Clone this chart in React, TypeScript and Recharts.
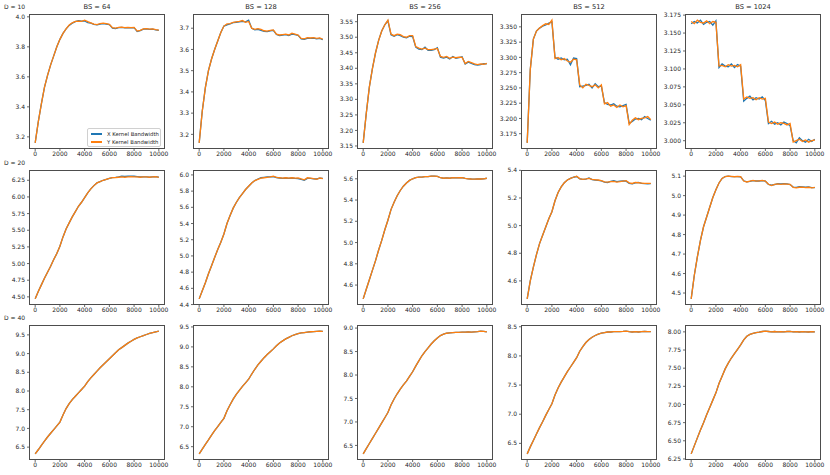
import { Line, LineChart, XAxis, YAxis } from "recharts";

const BLUE = "#1f77b4";
const ORANGE = "#ff7f0e";

const SERIES_NAMES = ["X Kernel Bandwidth", "Y Kernel Bandwidth"];
const ROW_LABELS = ["D = 10", "D = 20", "D = 40"];
const COL_TITLES = ["BS = 64", "BS = 128", "BS = 256", "BS = 512", "BS = 1024"];

// training steps (x values shared by every panel)
const STEPS = [
  0, 250, 500, 750, 1000, 1250, 1500, 1750, 2000, 2250, 2500, 2750, 3000, 3250, 3500, 3750,
  4000, 4250, 4500, 4750, 5000, 5250, 5500, 5750, 6000, 6250, 6500, 6750, 7000, 7250, 7500,
  7750, 8000, 8250, 8500, 8750, 9000, 9250, 9500, 9750, 10000,
];
const X_TICKS = [0, 2000, 4000, 6000, 8000, 10000];

// ---- D = 10 ----
const d10_bs64_y = [3.16, 3.30, 3.42, 3.53, 3.61, 3.68, 3.74, 3.80, 3.85, 3.89, 3.92, 3.945, 3.96, 3.97, 3.972, 3.97, 3.978, 3.968, 3.96, 3.952, 3.948, 3.955, 3.958, 3.955, 3.95, 3.928, 3.925, 3.93, 3.932, 3.928, 3.93, 3.928, 3.93, 3.905, 3.91, 3.92, 3.922, 3.918, 3.92, 3.915, 3.912];
const d10_bs64_x = [3.16, 3.30, 3.42, 3.53, 3.61, 3.68, 3.74, 3.80, 3.85, 3.89, 3.92, 3.943, 3.958, 3.968, 3.975, 3.972, 3.972, 3.962, 3.958, 3.950, 3.946, 3.952, 3.955, 3.952, 3.948, 3.924, 3.922, 3.928, 3.930, 3.926, 3.928, 3.926, 3.928, 3.902, 3.908, 3.918, 3.920, 3.916, 3.918, 3.913, 3.910];
const d10_bs128_y = [3.16, 3.31, 3.42, 3.50, 3.555, 3.60, 3.64, 3.68, 3.71, 3.72, 3.722, 3.728, 3.73, 3.732, 3.736, 3.728, 3.732, 3.70, 3.695, 3.698, 3.694, 3.688, 3.686, 3.69, 3.692, 3.672, 3.668, 3.67, 3.672, 3.668, 3.676, 3.672, 3.668, 3.652, 3.65, 3.656, 3.654, 3.656, 3.652, 3.654, 3.648];
const d10_bs128_x = [3.16, 3.31, 3.42, 3.50, 3.555, 3.60, 3.64, 3.68, 3.71, 3.716, 3.72, 3.726, 3.728, 3.73, 3.732, 3.73, 3.738, 3.70, 3.692, 3.695, 3.69, 3.685, 3.684, 3.688, 3.69, 3.67, 3.665, 3.668, 3.67, 3.665, 3.672, 3.67, 3.666, 3.65, 3.648, 3.652, 3.652, 3.653, 3.65, 3.652, 3.646];
const d10_bs256_y = [3.16, 3.255, 3.34, 3.40, 3.45, 3.49, 3.52, 3.54, 3.555, 3.51, 3.505, 3.51, 3.508, 3.502, 3.50, 3.505, 3.505, 3.47, 3.465, 3.462, 3.465, 3.46, 3.46, 3.462, 3.464, 3.438, 3.435, 3.438, 3.432, 3.436, 3.434, 3.436, 3.435, 3.415, 3.422, 3.418, 3.414, 3.412, 3.414, 3.413, 3.416];
const d10_bs256_x = [3.16, 3.255, 3.34, 3.40, 3.45, 3.49, 3.52, 3.54, 3.553, 3.508, 3.503, 3.508, 3.505, 3.50, 3.498, 3.503, 3.502, 3.468, 3.462, 3.46, 3.468, 3.458, 3.458, 3.46, 3.466, 3.436, 3.433, 3.436, 3.43, 3.438, 3.432, 3.434, 3.437, 3.414, 3.42, 3.416, 3.412, 3.41, 3.412, 3.415, 3.414];
const d10_bs512_y = [3.16, 3.28, 3.33, 3.343, 3.348, 3.352, 3.355, 3.354, 3.361, 3.298, 3.30, 3.296, 3.298, 3.294, 3.292, 3.297, 3.296, 3.255, 3.25, 3.256, 3.254, 3.252, 3.255, 3.25, 3.255, 3.224, 3.226, 3.22, 3.222, 3.218, 3.222, 3.219, 3.221, 3.19, 3.197, 3.201, 3.198, 3.20, 3.201, 3.203, 3.198];
const d10_bs512_x = [3.16, 3.28, 3.33, 3.343, 3.348, 3.351, 3.353, 3.356, 3.358, 3.30, 3.297, 3.299, 3.296, 3.297, 3.288, 3.299, 3.298, 3.252, 3.253, 3.254, 3.256, 3.25, 3.257, 3.252, 3.253, 3.226, 3.223, 3.222, 3.224, 3.22, 3.219, 3.221, 3.223, 3.192, 3.195, 3.199, 3.20, 3.198, 3.203, 3.20, 3.197];
const d10_bs1024_y = [3.166, 3.163, 3.168, 3.165, 3.164, 3.167, 3.163, 3.166, 3.165, 3.104, 3.105, 3.103, 3.106, 3.104, 3.105, 3.103, 3.106, 3.058, 3.061, 3.059, 3.06, 3.057, 3.06, 3.058, 3.059, 3.026, 3.024, 3.026, 3.023, 3.025, 3.024, 3.022, 3.024, 2.998, 3.00, 3.002, 2.999, 3.001, 2.998, 3.00, 3.001];
const d10_bs1024_x = [3.163, 3.166, 3.164, 3.168, 3.162, 3.165, 3.166, 3.161, 3.167, 3.102, 3.107, 3.104, 3.103, 3.107, 3.102, 3.106, 3.104, 3.055, 3.059, 3.062, 3.057, 3.06, 3.058, 3.061, 3.056, 3.024, 3.027, 3.023, 3.025, 3.022, 3.026, 3.024, 3.021, 3.00, 2.997, 3.004, 3.00, 2.998, 3.002, 2.999, 3.002];

// ---- D = 20 ----
const d20_bs64_y = [4.47, 4.58, 4.68, 4.78, 4.87, 4.96, 5.06, 5.15, 5.26, 5.40, 5.52, 5.61, 5.70, 5.78, 5.86, 5.92, 5.99, 6.06, 6.12, 6.17, 6.21, 6.23, 6.25, 6.265, 6.28, 6.29, 6.29, 6.295, 6.30, 6.295, 6.30, 6.305, 6.30, 6.30, 6.295, 6.30, 6.30, 6.295, 6.30, 6.305, 6.295];
const d20_bs64_x = [4.47, 4.58, 4.68, 4.78, 4.87, 4.96, 5.06, 5.15, 5.26, 5.40, 5.52, 5.61, 5.70, 5.78, 5.86, 5.92, 5.99, 6.06, 6.12, 6.17, 6.21, 6.23, 6.25, 6.265, 6.28, 6.29, 6.292, 6.30, 6.31, 6.308, 6.312, 6.31, 6.31, 6.305, 6.30, 6.302, 6.30, 6.298, 6.302, 6.305, 6.298];
const d20_bs128_y = [4.47, 4.57, 4.67, 4.78, 4.88, 4.98, 5.08, 5.17, 5.27, 5.40, 5.50, 5.59, 5.66, 5.72, 5.77, 5.82, 5.86, 5.90, 5.93, 5.945, 5.96, 5.965, 5.97, 5.975, 5.985, 5.97, 5.965, 5.96, 5.965, 5.96, 5.965, 5.96, 5.962, 5.95, 5.94, 5.965, 5.96, 5.955, 5.945, 5.962, 5.955];
const d20_bs128_x = [4.47, 4.57, 4.67, 4.78, 4.88, 4.98, 5.08, 5.17, 5.27, 5.40, 5.50, 5.59, 5.66, 5.72, 5.77, 5.82, 5.86, 5.90, 5.93, 5.95, 5.965, 5.97, 5.975, 5.975, 5.98, 5.968, 5.962, 5.958, 5.962, 5.958, 5.962, 5.958, 5.955, 5.945, 5.935, 5.958, 5.958, 5.952, 5.95, 5.96, 5.958];
const d20_bs256_y = [4.47, 4.56, 4.65, 4.74, 4.83, 4.93, 5.02, 5.12, 5.21, 5.31, 5.38, 5.44, 5.49, 5.53, 5.56, 5.585, 5.60, 5.61, 5.615, 5.615, 5.62, 5.62, 5.625, 5.625, 5.623, 5.61, 5.605, 5.608, 5.605, 5.61, 5.608, 5.61, 5.61, 5.603, 5.60, 5.598, 5.597, 5.60, 5.598, 5.60, 5.605];
const d20_bs512_y = [4.47, 4.60, 4.70, 4.79, 4.87, 4.93, 4.99, 5.05, 5.10, 5.18, 5.24, 5.28, 5.31, 5.33, 5.342, 5.35, 5.358, 5.34, 5.335, 5.338, 5.342, 5.335, 5.332, 5.33, 5.325, 5.316, 5.314, 5.318, 5.32, 5.315, 5.318, 5.322, 5.325, 5.31, 5.305, 5.312, 5.31, 5.308, 5.306, 5.305, 5.305];
const d20_bs512_x = [4.47, 4.60, 4.70, 4.79, 4.87, 4.93, 4.99, 5.05, 5.10, 5.18, 5.24, 5.28, 5.31, 5.33, 5.342, 5.35, 5.355, 5.338, 5.335, 5.336, 5.345, 5.333, 5.33, 5.328, 5.323, 5.314, 5.312, 5.32, 5.326, 5.318, 5.322, 5.324, 5.322, 5.306, 5.302, 5.31, 5.312, 5.306, 5.304, 5.303, 5.304];
const d20_bs1024_y = [4.47, 4.59, 4.685, 4.77, 4.84, 4.89, 4.94, 4.99, 5.03, 5.065, 5.088, 5.098, 5.10, 5.099, 5.097, 5.099, 5.097, 5.075, 5.07, 5.074, 5.078, 5.074, 5.076, 5.078, 5.075, 5.058, 5.052, 5.058, 5.06, 5.058, 5.06, 5.059, 5.058, 5.042, 5.04, 5.043, 5.044, 5.041, 5.043, 5.04, 5.042];
const d20_bs1024_x = [4.47, 4.59, 4.685, 4.77, 4.84, 4.89, 4.94, 4.99, 5.03, 5.065, 5.088, 5.098, 5.10, 5.098, 5.098, 5.098, 5.096, 5.076, 5.071, 5.073, 5.077, 5.075, 5.075, 5.077, 5.074, 5.057, 5.054, 5.057, 5.061, 5.06, 5.062, 5.06, 5.057, 5.044, 5.042, 5.046, 5.045, 5.043, 5.045, 5.041, 5.041];

// ---- D = 40 (both bandwidths overlap at this scale) ----
const d40_bs64_y = [6.32, 6.43, 6.55, 6.66, 6.77, 6.87, 6.97, 7.07, 7.17, 7.36, 7.53, 7.66, 7.77, 7.86, 7.95, 8.04, 8.13, 8.25, 8.35, 8.44, 8.53, 8.62, 8.70, 8.78, 8.86, 8.94, 9.02, 9.10, 9.16, 9.22, 9.28, 9.33, 9.38, 9.42, 9.45, 9.48, 9.51, 9.54, 9.56, 9.58, 9.60];
const d40_bs128_y = [6.32, 6.44, 6.56, 6.67, 6.79, 6.90, 7.00, 7.11, 7.21, 7.40, 7.55, 7.69, 7.81, 7.91, 8.01, 8.10, 8.19, 8.32, 8.44, 8.55, 8.64, 8.73, 8.81, 8.88, 8.95, 9.03, 9.10, 9.15, 9.20, 9.24, 9.28, 9.31, 9.33, 9.35, 9.36, 9.37, 9.38, 9.385, 9.39, 9.395, 9.39];
const d40_bs256_y = [6.32, 6.43, 6.54, 6.65, 6.76, 6.87, 6.98, 7.09, 7.20, 7.36, 7.49, 7.60, 7.70, 7.79, 7.87, 7.97, 8.07, 8.19, 8.30, 8.41, 8.50, 8.58, 8.66, 8.73, 8.79, 8.84, 8.87, 8.89, 8.90, 8.905, 8.91, 8.91, 8.915, 8.915, 8.92, 8.915, 8.92, 8.925, 8.935, 8.93, 8.92];
const d40_bs512_y = [6.32, 6.44, 6.55, 6.66, 6.77, 6.87, 6.98, 7.08, 7.18, 7.33, 7.45, 7.55, 7.64, 7.73, 7.81, 7.89, 7.97, 8.08, 8.16, 8.23, 8.28, 8.32, 8.35, 8.375, 8.39, 8.40, 8.41, 8.41, 8.415, 8.415, 8.418, 8.42, 8.425, 8.415, 8.41, 8.415, 8.41, 8.415, 8.42, 8.415, 8.415];
const d40_bs1024_y = [6.32, 6.43, 6.54, 6.65, 6.75, 6.86, 6.96, 7.06, 7.16, 7.29, 7.39, 7.49, 7.57, 7.64, 7.70, 7.76, 7.82, 7.89, 7.94, 7.965, 7.98, 7.99, 7.995, 8.005, 8.01, 8.005, 8.00, 8.005, 8.00, 8.003, 8.00, 8.005, 8.006, 8.00, 8.002, 7.998, 8.002, 8.00, 7.998, 8.002, 8.00];

// y tick labels per panel
const T_D10 = [
  [3.2, 3.4, 3.6, 3.8, 4.0],
  [3.2, 3.3, 3.4, 3.5, 3.6, 3.7],
  [3.15, 3.2, 3.25, 3.3, 3.35, 3.4, 3.45, 3.5, 3.55],
  [3.175, 3.2, 3.225, 3.25, 3.275, 3.3, 3.325, 3.35],
  [3.0, 3.025, 3.05, 3.075, 3.1, 3.125, 3.15, 3.175],
];
const T_D20 = [
  [4.5, 4.75, 5.0, 5.25, 5.5, 5.75, 6.0, 6.25],
  [4.4, 4.6, 4.8, 5.0, 5.2, 5.4, 5.6, 5.8, 6.0],
  [4.6, 4.8, 5.0, 5.2, 5.4, 5.6],
  [4.6, 4.8, 5.0, 5.2, 5.4],
  [4.5, 4.6, 4.7, 4.8, 4.9, 5.0, 5.1],
];
const T_D40 = [
  [6.5, 7.0, 7.5, 8.0, 8.5, 9.0, 9.5],
  [6.5, 7.0, 7.5, 8.0, 8.5, 9.0, 9.5],
  [6.5, 7.0, 7.5, 8.0, 8.5, 9.0],
  [6.5, 7.0, 7.5, 8.0, 8.5],
  [6.25, 6.5, 6.75, 7.0, 7.25, 7.5, 7.75, 8.0],
];
const DEC = [
  [1, 1, 2, 3, 3],
  [2, 1, 1, 1, 1],
  [1, 1, 1, 1, 2],
];

type PanelData = { x: number[]; y: number[]; ticks: number[]; dec: number };

const GRID: PanelData[][] = [
  [
    { x: d10_bs64_x, y: d10_bs64_y, ticks: T_D10[0], dec: DEC[0][0] },
    { x: d10_bs128_x, y: d10_bs128_y, ticks: T_D10[1], dec: DEC[0][1] },
    { x: d10_bs256_x, y: d10_bs256_y, ticks: T_D10[2], dec: DEC[0][2] },
    { x: d10_bs512_x, y: d10_bs512_y, ticks: T_D10[3], dec: DEC[0][3] },
    { x: d10_bs1024_x, y: d10_bs1024_y, ticks: T_D10[4], dec: DEC[0][4] },
  ],
  [
    { x: d20_bs64_x, y: d20_bs64_y, ticks: T_D20[0], dec: DEC[1][0] },
    { x: d20_bs128_x, y: d20_bs128_y, ticks: T_D20[1], dec: DEC[1][1] },
    { x: d20_bs256_y, y: d20_bs256_y, ticks: T_D20[2], dec: DEC[1][2] },
    { x: d20_bs512_x, y: d20_bs512_y, ticks: T_D20[3], dec: DEC[1][3] },
    { x: d20_bs1024_x, y: d20_bs1024_y, ticks: T_D20[4], dec: DEC[1][4] },
  ],
  [
    { x: d40_bs64_y, y: d40_bs64_y, ticks: T_D40[0], dec: DEC[2][0] },
    { x: d40_bs128_y, y: d40_bs128_y, ticks: T_D40[1], dec: DEC[2][1] },
    { x: d40_bs256_y, y: d40_bs256_y, ticks: T_D40[2], dec: DEC[2][2] },
    { x: d40_bs512_y, y: d40_bs512_y, ticks: T_D40[3], dec: DEC[2][3] },
    { x: d40_bs1024_y, y: d40_bs1024_y, ticks: T_D40[4], dec: DEC[2][4] },
  ],
];

// layout (px)
const COL_LEFT = [29, 193, 357, 521, 685];
const ROW_TOP = [14, 170, 325];
const PW = 136;
const PH = 135;
const YW = 34;
const MT = 4;
const MR = 10;
const XH = 14;
const FONT = "'DejaVu Sans', sans-serif";
const INK = "#262626";

// matplotlib-style autoscale: data range plus 5% each side
function yDomain(a: number[], b: number[]): [number, number] {
  const lo = Math.min(...a, ...b);
  const hi = Math.max(...a, ...b);
  const pad = (hi - lo) * 0.05;
  return [lo - pad, hi + pad];
}

function Panel({ p, left, top }: { p: PanelData; left: number; top: number }) {
  const rows = STEPS.map((s, i) => ({ step: s, x: p.x[i], y: p.y[i] }));
  const tick = { fontSize: 6, fill: INK, fontFamily: FONT };
  return (
    <div style={{ position: "absolute", left: left - YW, top: top - MT }}>
      <LineChart width={YW + PW + MR} height={MT + PH + XH} data={rows} margin={{ top: MT, right: MR, bottom: 0, left: 0 }}>
        <XAxis
          dataKey="step" type="number" domain={[-500, 10500]} ticks={X_TICKS} interval={0}
          height={XH} tick={tick} tickSize={2} tickMargin={1} axisLine={false}
          tickLine={{ stroke: INK, strokeWidth: 0.7 }} allowDataOverflow
        />
        <YAxis
          type="number" domain={yDomain(p.x, p.y)} ticks={p.ticks} interval={0} width={YW}
          tickFormatter={(v: number) => v.toFixed(p.dec)} tick={tick} tickSize={2} tickMargin={2}
          axisLine={false} tickLine={{ stroke: INK, strokeWidth: 0.7 }} allowDataOverflow
        />
        <Line dataKey="x" name={SERIES_NAMES[0]} stroke={BLUE} strokeWidth={1.3} dot={false} isAnimationActive={false} />
        <Line dataKey="y" name={SERIES_NAMES[1]} stroke={ORANGE} strokeWidth={1.3} dot={false} isAnimationActive={false} />
      </LineChart>
      <div
        style={{
          position: "absolute", left: YW, top: MT, width: PW, height: PH,
          border: "1px solid #4d4d4d", boxSizing: "border-box", pointerEvents: "none",
        }}
      />
    </div>
  );
}

function LegendBox() {
  const colors = [BLUE, ORANGE];
  return (
    <div
      style={{
        position: "absolute", left: 87, top: 128, width: 74, height: 19, boxSizing: "border-box",
        border: "1px solid #d0d0d0", borderRadius: 2, background: "rgba(255,255,255,0.8)",
        fontSize: 5.3, color: INK, padding: "1px 0 0 3px",
      }}
    >
      {SERIES_NAMES.map((n, i) => (
        <div key={n} style={{ display: "flex", alignItems: "center", height: 8 }}>
          <span style={{ display: "inline-block", width: 11, height: 1.3, background: colors[i], marginRight: 5 }} />
          <span>{n}</span>
        </div>
      ))}
    </div>
  );
}

export default function App() {
  return (
    <div style={{ position: "absolute", left: 0, top: 0, width: 830, height: 475, background: "#fff", fontFamily: FONT, overflow: "hidden" }}>
      {GRID.map((row, r) =>
        row.map((p, c) => <Panel key={`${r}-${c}`} p={p} left={COL_LEFT[c]} top={ROW_TOP[r]} />)
      )}
      {COL_TITLES.map((t, c) => (
        <div key={t} style={{ position: "absolute", left: COL_LEFT[c], top: ROW_TOP[0] - 11, width: PW, textAlign: "center", fontSize: 6.7, lineHeight: "8px", color: INK }}>
          {t}
        </div>
      ))}
      {ROW_LABELS.map((t, r) => (
        <div key={t} style={{ position: "absolute", left: 4, top: ROW_TOP[r] - 11, fontSize: 6, lineHeight: "8px", color: INK }}>
          {t}
        </div>
      ))}
      <LegendBox />
    </div>
  );
}
